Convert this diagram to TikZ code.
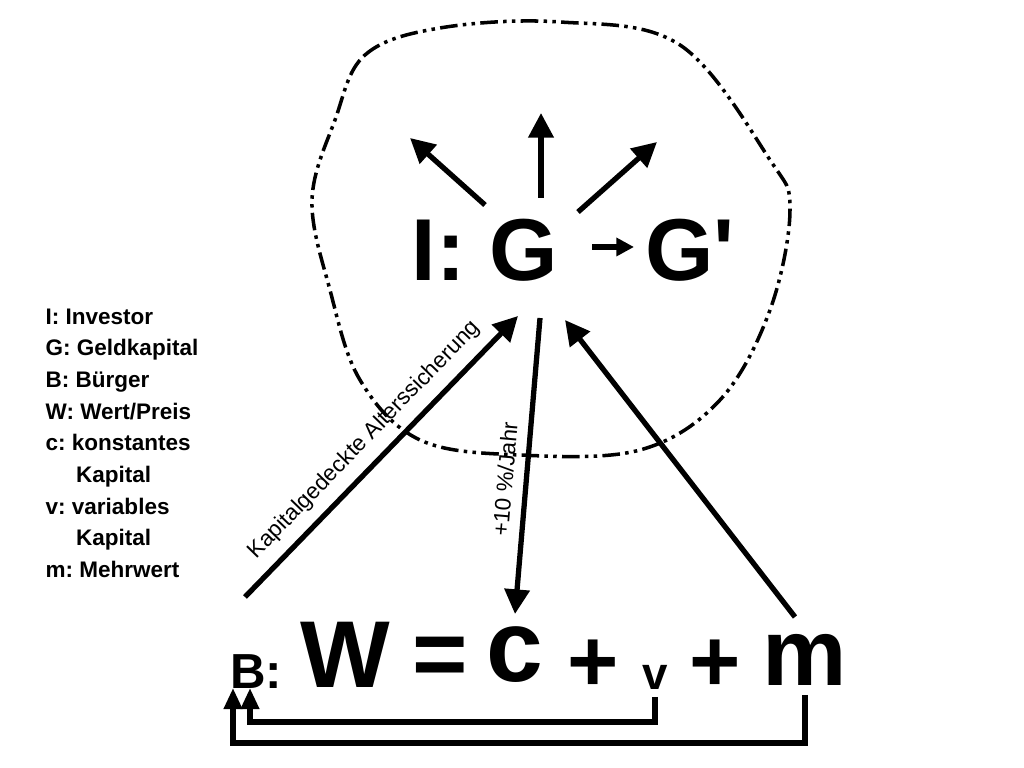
\documentclass[tikz,border=0pt]{standalone}
\usepackage{fontspec}
\setmainfont{Liberation Sans}
\usetikzlibrary{arrows.meta, positioning, calc}

\tikzset{
  thick arrow/.style={line width=1.5pt, -{Triangle[length=7pt,width=7pt]}},
  big/.style={font=\fontsize{25}{25}\selectfont\bfseries, inner sep=0pt},
  legend/.style={font=\fontsize{6.4}{9}\selectfont\bfseries\frenchspacing, align=left, anchor=north west, inner sep=0pt},
  lbl/.style={font=\fontsize{6.4}{8}\selectfont, inner sep=1pt},
}

\begin{document}
\begin{tikzpicture}[x=0.01cm, y=-0.01cm]
    \useasboundingbox (0,0) rectangle (1024,768);
    % boundary around the investor
    \draw[line width=1pt, dash pattern=on 5pt off 1.5pt on 1pt off 1.5pt on 1pt off 1.5pt]
      plot[smooth cycle, tension=0.6] coordinates {(335,120) (365,55) (440,28) (560,22) (680,45) (770,160) (790,210) (770,310) (720,400) (640,450) (520,455) (420,440) (360,380) (330,290) (312,200)};

    \node[big] (I) at (485,250) {I: G};
    \node[big] (Gs) at (690,250) {G\textquotesingle};
    \coordinate (g1) at (592,247);
    \coordinate (g2) at (634,247);
    \draw[line width=1.5pt, -{Triangle[length=5pt,width=5pt]}] (g1) -- (g2);

    \coordinate (u1) at (410,138);
    \coordinate (u2) at (541,113);
    \coordinate (u3) at (657,142);
    \draw[thick arrow] (485,205) -- (u1);
    \draw[thick arrow] (541,198) -- (u2);
    \draw[thick arrow] (578,212) -- (u3);

    \node[legend] (leg) at (45,308) {I: Investor\\G: Geldkapital\\B: Bürger\\W: Wert/Preis\\c: konstantes\\\hspace{1.35em}Kapital\\v: variables\\\hspace{1.35em}Kapital\\m: Mehrwert};

    % Bürger line
    \node[font=\fontsize{14}{14}\selectfont\bfseries, inner sep=0pt] (B) at (256,672) {B:};
    \node[font=\fontsize{27}{27}\selectfont\bfseries, inner sep=0pt] (W) at (345,655) {W};
    \node[font=\fontsize{27}{27}\selectfont\bfseries, inner sep=0pt] (eq) at (440,662) {=};
    \node[font=\fontsize{29}{29}\selectfont\bfseries, inner sep=0pt] (c) at (515,655) {c};
    \node[font=\fontsize{25}{25}\selectfont\bfseries, inner sep=0pt] (p1) at (593,666) {+};
    \node[font=\fontsize{13}{13}\selectfont\bfseries, inner sep=0pt] (v) at (655,677) {v};
    \node[font=\fontsize{25}{25}\selectfont\bfseries, inner sep=0pt] (p2) at (715,666) {+};
    \node[font=\fontsize{27}{27}\selectfont\bfseries, inner sep=0pt] (m) at (805,660) {m};

    \coordinate (bs) at (245,597);
    \coordinate (bt) at (518,316);
    \draw[thick arrow] (bs) -- node[lbl, sloped, above=2pt, pos=0.5] {Kapitalgedeckte Alterssicherung} (bt);
    \coordinate (cs) at (540,318);
    \coordinate (ct) at (515,614);
    \draw[thick arrow] (cs) -- node[lbl, sloped, above=2pt, pos=0.55] {+10 \%/Jahr} (ct);
    \coordinate (ms) at (795,617);
    \coordinate (mt) at (565,320);
    \draw[thick arrow] (ms) -- (mt);

    % flows back to B
    \draw[line width=1.5pt, -{Triangle[length=6pt,width=5pt]}] (655,697) -- (655,722) -- (250,722) -- (250,688);
    \draw[line width=1.5pt, -{Triangle[length=6pt,width=5pt]}] (805,695) -- (805,743) -- (233,743) -- (233,688);
\end{tikzpicture}
\end{document}
